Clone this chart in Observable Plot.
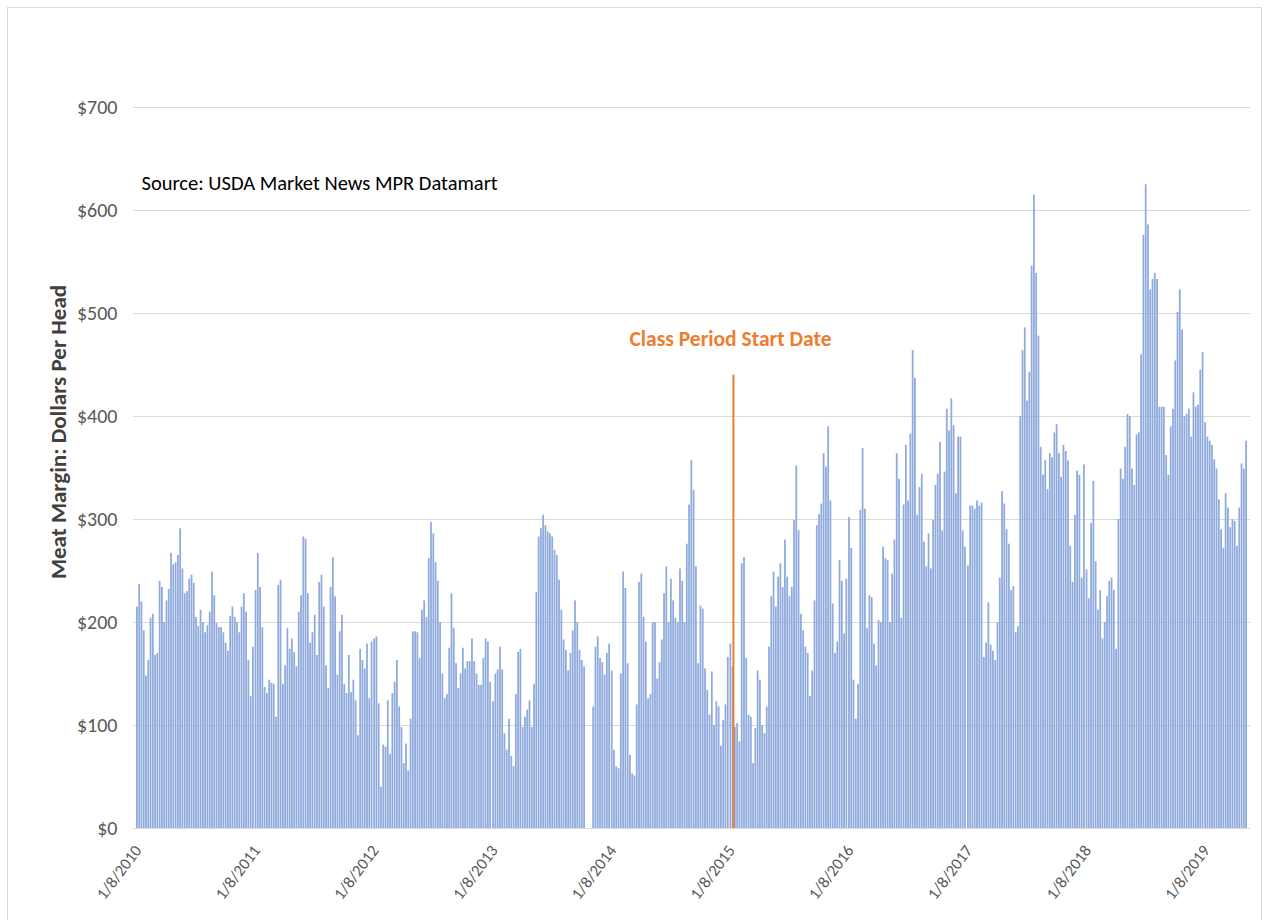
<!DOCTYPE html>
<html><head><meta charset="utf-8">
<script src="https://cdn.jsdelivr.net/npm/d3@7"></script>
<script src="https://cdn.jsdelivr.net/npm/@observablehq/plot@0.6"></script>
<style>
html,body{margin:0;padding:0;background:#fff;overflow:hidden;}
#wrap{position:relative;width:1269px;height:920px;}
#frame{position:absolute;left:7px;top:7px;width:1255px;height:960px;border:1px solid #D9D9D9;box-sizing:border-box;}
#chart{position:absolute;left:0;top:0;}
</style></head><body>
<div id="wrap"><div id="frame"></div><div id="chart"></div></div>
<script>
// Weekly meat margin, dollars per head, one array per year
const margin2010 = [215,237,220,192,148,163,204,208,168,170,240,234,200,221,232,267,256,258,265,291,252,228,230,242,246,238,205,196,212,200,190,197,210,249,226,199,195,195,190,180,172,206,215,205,200,190,215,228,210,163,128,176];
const margin2011 = [231,267,234,195,137,131,144,141,140,108,236,241,140,158,194,174,184,171,157,210,226,283,281,228,180,190,207,168,239,246,215,158,136,234,263,225,149,191,207,140,131,168,132,144,124,90,174,163,155,179,126,181];
const margin2012 = [184,186,121,40,81,79,124,72,131,142,163,118,98,63,82,56,106,191,191,190,165,212,221,205,262,297,286,258,240,200,150,126,130,175,228,194,160,136,150,175,155,162,162,184,162,150,139,139,165,184,181,142];
const margin2013 = [123,150,154,176,154,92,76,106,70,60,130,171,174,98,108,115,124,98,140,229,283,291,304,294,288,286,283,270,265,241,212,183,173,153,170,192,221,200,173,163,157,0,0,0,118,176,186,165,161,149,170,179];
const margin2014 = [153,76,60,58,150,249,233,160,71,53,51,120,239,247,205,181,126,130,200,200,145,161,183,228,254,200,242,221,204,200,252,240,200,276,314,357,328,254,160,216,213,155,134,110,152,100,123,118,80,105,120,166];
const margin2015 = [179,157,98,102,84,257,263,165,110,108,63,97,153,144,100,92,118,176,225,249,215,244,257,234,280,244,225,234,299,352,289,208,192,176,170,128,153,221,294,305,315,364,351,390,318,218,170,181,260,240,189,242];
const margin2016 = [302,272,144,106,140,309,369,310,194,226,224,179,158,202,200,273,262,260,200,247,280,364,339,204,314,372,318,383,464,437,304,331,344,278,254,286,252,299,333,344,375,289,346,407,386,417,391,325,380,380,289,273];
const margin2017 = [255,313,313,310,318,313,316,166,180,219,178,172,163,200,243,327,315,290,276,231,235,190,196,400,464,486,415,443,546,615,539,478,370,343,357,329,364,360,384,392,364,341,372,366,357,274,239,304,347,343,243,353];
const margin2018 = [251,223,296,337,259,212,231,184,200,225,240,243,231,174,300,349,339,370,402,400,349,333,382,384,460,576,625,586,523,533,539,533,409,409,409,362,343,390,407,454,501,523,484,400,402,407,380,423,409,411,445,462];
const margin2019 = [394,380,376,372,358,349,319,290,272,325,311,292,300,298,274,311,354,349,376];

const seriesYears = [2010,2011,2012,2013,2014,2015,2016,2017,2018,2019];
const tickLabels = ["1/8/2010","1/8/2011","1/8/2012","1/8/2013","1/8/2014","1/8/2015","1/8/2016","1/8/2017","1/8/2018","1/8/2019"];
const yTicks = [0,100,200,300,400,500,600,700];
const xDomain = ["2009-12-27","2019-05-26"];
const classStartDate = "1/16/2015";
const classLineTop = 440;
const annotationText = "Class Period Start Date";
const sourceText = "Source: USDA Market News MPR Datamart";
const yLabel = "Meat Margin: Dollars Per Head";

const parse = d3.utcParse("%m/%d/%Y");
const yearArrays = [margin2010,margin2011,margin2012,margin2013,margin2014,margin2015,margin2016,margin2017,margin2018,margin2019];
const data = seriesYears.flatMap((yr, k) => {
  const start = parse(tickLabels[k]);
  return yearArrays[k].map((v, i) => ({date: d3.utcDay.offset(start, 7 * i), value: v}));
});
const ticks = tickLabels.map(l => ({date: parse(l), label: l}));
const classStart = [{date: parse(classStartDate), top: classLineTop}];

const font = "Carlito, Calibri, Lato, sans-serif";

const chart = Plot.plot({
  width: 1269,
  height: 920,
  marginLeft: 133,
  marginRight: 19,
  marginTop: 107,
  marginBottom: 92,
  x: {type: "utc", domain: xDomain.map(d => new Date(d)), axis: null},
  y: {domain: [0, 700], axis: null},
  style: {fontFamily: font, background: "transparent", overflow: "visible"},
  marks: [
    Plot.gridY(yTicks, {stroke: "#D9D9D9", strokeOpacity: 1}),
    Plot.rectY(data, {
      x1: d => d3.utcHour.offset(d.date, -84),
      x2: d => d3.utcHour.offset(d.date, 84),
      y: "value",
      fill: "#8FAADC",
      insetLeft: 0.25,
      insetRight: 0.25
    }),
    Plot.ruleY([0], {stroke: "#D9D9D9"}),
    Plot.axisY(yTicks, {tickSize: 0, tickPadding: 16, tickFormat: d => "$" + d, fontSize: 20, color: "#595959", label: null}),
    Plot.text(ticks, {x: "date", frameAnchor: "bottom", text: "label", rotate: -53, textAnchor: "end", dx: 5, dy: 22, fontSize: 16.5, fill: "#595959"}),
    Plot.text([yLabel], {frameAnchor: "left", dx: -75, dy: -36, rotate: -90, textAnchor: "middle", fontWeight: "bold", fontSize: 23, fill: "#404040"}),
    Plot.text([sourceText], {frameAnchor: "top-left", dx: 8, dy: 76, textAnchor: "start", lineAnchor: "middle", fontSize: 20.5, fill: "#000000"}),
    Plot.ruleX(classStart, {x: "date", y1: 0, y2: "top", stroke: "#ED7D31", strokeWidth: 2}),
    Plot.text(classStart, {x: "date", y: "top", dy: -36, dx: -3, text: () => annotationText, fontWeight: "bold", fontSize: 21.5, fill: "#ED7D31"})
  ]
});
document.getElementById("chart").appendChild(chart);
</script>
</body></html>
